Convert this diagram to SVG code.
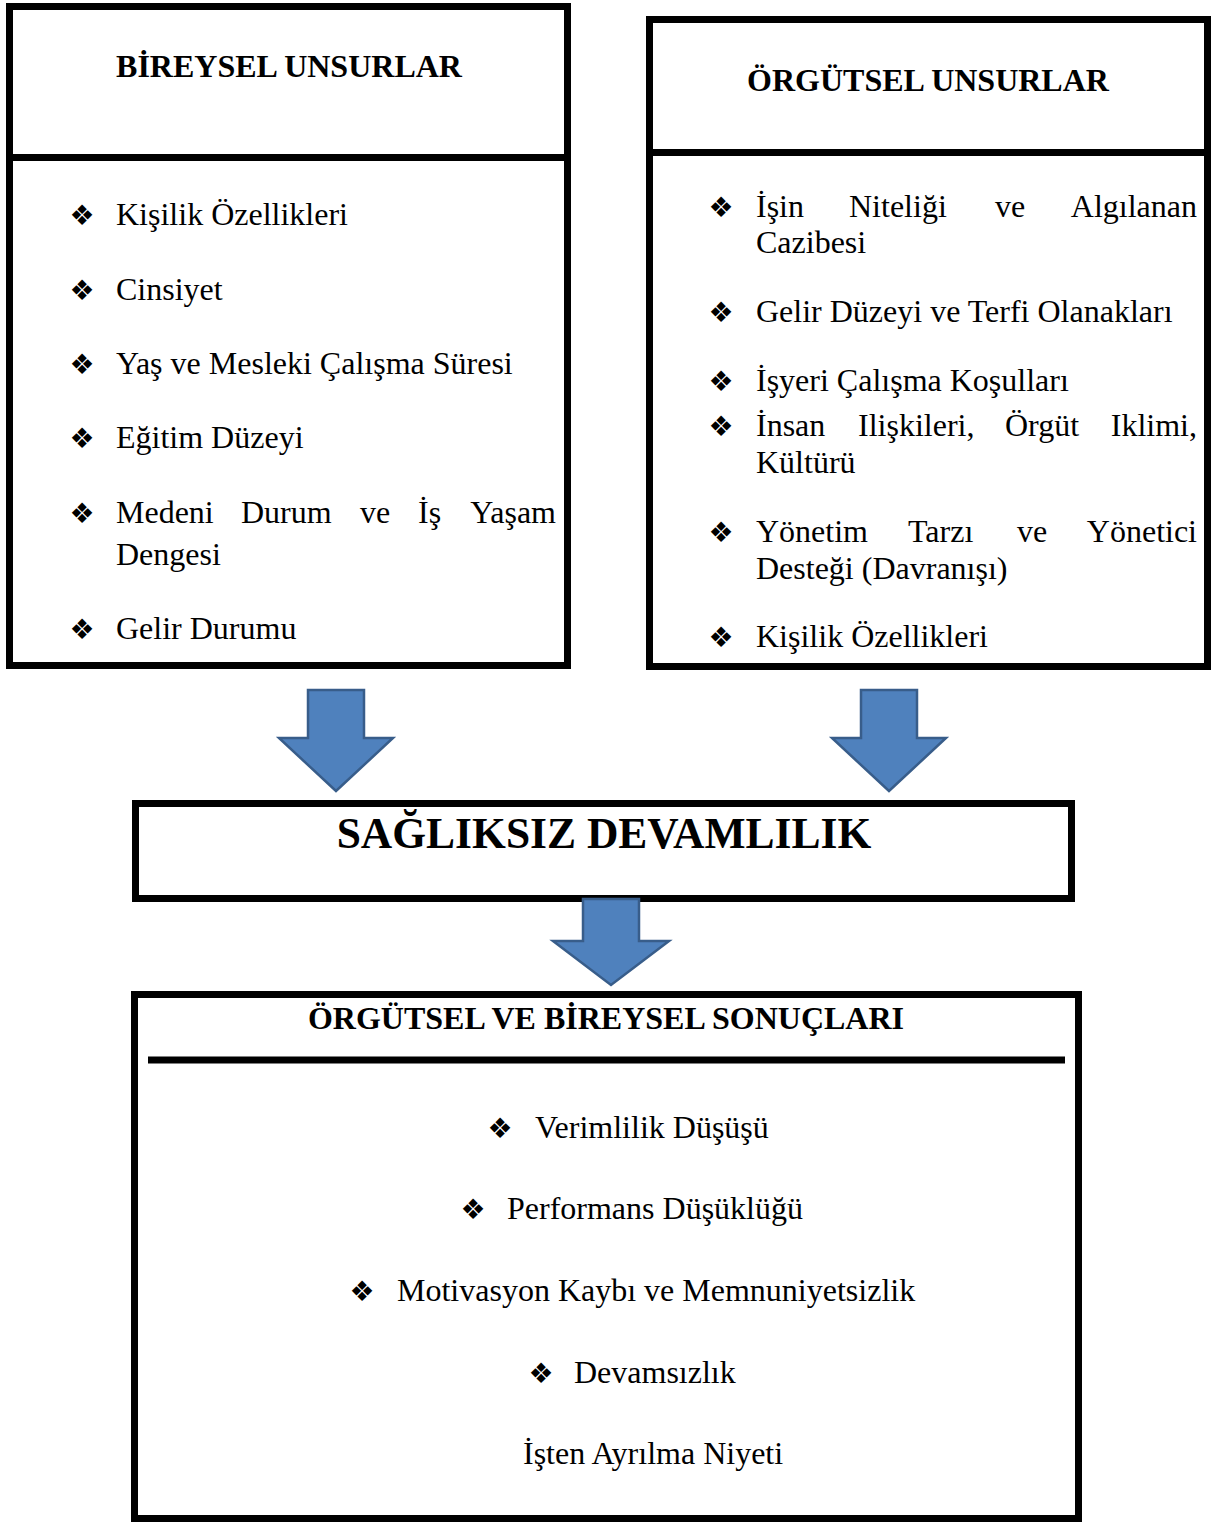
<svg xmlns="http://www.w3.org/2000/svg" width="1220" height="1522" viewBox="0 0 1220 1522">
<style>
.box{fill:#fff;stroke:#000;stroke-width:7}
.div{stroke:#000;stroke-width:7}
.h{font-family:"Liberation Serif","Times New Roman",serif;font-weight:bold;font-size:32px;fill:#000}
.t{font-family:"Liberation Serif","Times New Roman",serif;font-size:32px;fill:#000}
.b{font-family:"DejaVu Sans",sans-serif;font-size:28px;fill:#000;text-anchor:middle}
.arrow{fill:#4F81BD;stroke:#385D8A;stroke-width:2.5;stroke-linejoin:miter}
.end{text-anchor:end}
</style>
<rect width="1220" height="1522" fill="#fff"/>

<g id="bireysel">
<rect class="box" x="9.5" y="6.5" width="558" height="659"/>
<line class="div" x1="9.5" y1="157.5" x2="567.5" y2="157.5"/>
<text class="h" x="289" y="77" text-anchor="middle">BİREYSEL UNSURLAR</text>
<text class="b" x="82" y="225">❖</text><text class="t" x="116" y="225">Kişilik Özellikleri</text>
<text class="b" x="82" y="300">❖</text><text class="t" x="116" y="300">Cinsiyet</text>
<text class="b" x="82" y="374">❖</text><text class="t" x="116" y="374">Yaş ve Mesleki Çalışma Süresi</text>
<text class="b" x="82" y="448">❖</text><text class="t" x="116" y="448">Eğitim Düzeyi</text>
<text class="b" x="82" y="523">❖</text><text class="t" x="116" y="523">Medeni</text><text class="t" x="241" y="523">Durum</text><text class="t" x="360" y="523">ve</text><text class="t" x="418" y="523">İş</text><text class="t end" x="556" y="523">Yaşam</text>
<text class="t" x="116" y="565">Dengesi</text>
<text class="b" x="82" y="639">❖</text><text class="t" x="116" y="639">Gelir Durumu</text>
</g>

<g id="orgutsel">
<rect class="box" x="649.5" y="19.5" width="558" height="647"/>
<line class="div" x1="649.5" y1="152.5" x2="1207.5" y2="152.5"/>
<text class="h" x="928" y="91" text-anchor="middle">ÖRGÜTSEL UNSURLAR</text>
<text class="b" x="721" y="217">❖</text><text class="t" x="756" y="217">İşin</text><text class="t" x="849" y="217">Niteliği</text><text class="t" x="995" y="217">ve</text><text class="t end" x="1197" y="217">Algılanan</text>
<text class="t" x="756" y="253">Cazibesi</text>
<text class="b" x="721" y="322">❖</text><text class="t" x="756" y="322">Gelir Düzeyi ve Terfi Olanakları</text>
<text class="b" x="721" y="391">❖</text><text class="t" x="756" y="391">İşyeri Çalışma Koşulları</text>
<text class="b" x="721" y="436">❖</text><text class="t" x="756" y="436">İnsan</text><text class="t" x="858" y="436">Ilişkileri,</text><text class="t" x="1005" y="436">Örgüt</text><text class="t end" x="1197" y="436">Iklimi,</text>
<text class="t" x="756" y="473">Kültürü</text>
<text class="b" x="721" y="542">❖</text><text class="t" x="756" y="542">Yönetim</text><text class="t" x="908" y="542">Tarzı</text><text class="t" x="1017" y="542">ve</text><text class="t end" x="1197" y="542">Yönetici</text>
<text class="t" x="756" y="579">Desteği (Davranışı)</text>
<text class="b" x="721" y="647">❖</text><text class="t" x="756" y="647">Kişilik Özellikleri</text>
</g>

<g id="sagliksiz">
<rect class="box" x="135.5" y="803.5" width="936" height="95"/>
<text class="h" x="604" y="848" text-anchor="middle" style="font-size:43.5px">SAĞLIKSIZ DEVAMLILIK</text>
</g>

<g id="sonuclar">
<rect class="box" x="134.5" y="994.5" width="944" height="524"/>
<line class="div" x1="148" y1="1060" x2="1065" y2="1060"/>
<text class="h" x="606" y="1029" text-anchor="middle">ÖRGÜTSEL VE BİREYSEL SONUÇLARI</text>
<text class="b" x="500" y="1138">❖</text><text class="t" x="535" y="1138">Verimlilik Düşüşü</text>
<text class="b" x="473" y="1219">❖</text><text class="t" x="507" y="1219">Performans Düşüklüğü</text>
<text class="b" x="362" y="1301">❖</text><text class="t" x="397" y="1301">Motivasyon Kaybı ve Memnuniyetsizlik</text>
<text class="b" x="541" y="1383">❖</text><text class="t" x="574" y="1383">Devamsızlık</text>
<text class="t" x="523" y="1464">İşten Ayrılma Niyeti</text>
</g>

<g id="connectors">
<polygon class="arrow" points="308,690 364,690 364,738 393,738 336,791 279,738 308,738"/>
<polygon class="arrow" points="861,690 917,690 917,738 946,738 889,791 832,738 861,738"/>
<polygon class="arrow" points="583,899 639,899 639,941 669,941 611,985 553,941 583,941"/>
</g>
</svg>
